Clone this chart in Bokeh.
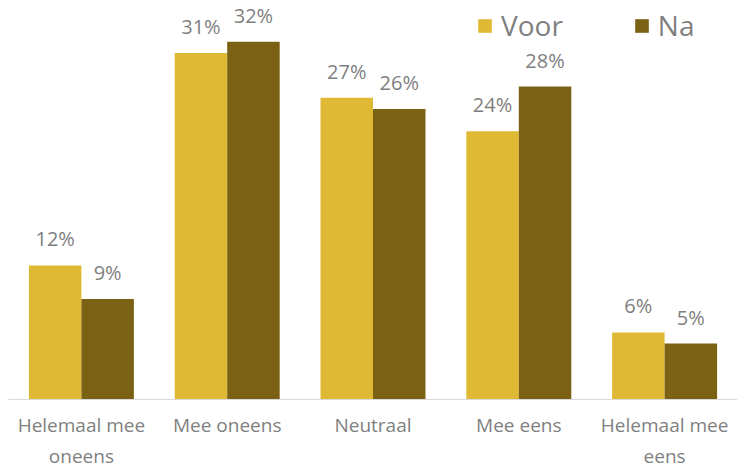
from bokeh.plotting import figure
from bokeh.models import ColumnDataSource, FactorRange, Range1d, Legend, LegendItem
from bokeh.transform import dodge
from bokeh.core.properties import value
from bokeh.embed import file_html
from bokeh.resources import INLINE

categories = ["Helemaal mee\noneens", "Mee oneens", "Neutraal", "Mee eens", "Helemaal mee\neens"]
voor = [12, 31, 27, 24, 6]
na = [9, 32, 26, 28, 5]
series_names = ["Voor", "Na"]
colors = ["#E0B934", "#7B6114"]

src = ColumnDataSource(dict(
    cat=categories,
    voor=voor,
    na=na,
    voor_lbl=[f"{v}%" for v in voor],
    na_lbl=[f"{v}%" for v in na],
))

FONT = "Open Sans"
GRAY = "#7F7F7F"

p = figure(width=737, height=471, output_backend="svg", toolbar_location=None,
           x_range=FactorRange(*categories, range_padding=0),
           y_range=Range1d(0, 35.7), min_border_left=8, min_border_right=0,
           min_border_top=0, min_border_bottom=70)
p.outline_line_color = None
p.xgrid.visible = False
p.ygrid.visible = False
p.yaxis.visible = False

w = 0.36
r1 = p.vbar(x=dodge("cat", -w / 2, range=p.x_range), top="voor", width=w, source=src,
            fill_color=colors[0], line_color=None)
r2 = p.vbar(x=dodge("cat", w / 2, range=p.x_range), top="na", width=w, source=src,
            fill_color=colors[1], line_color=None)

for col, off in (("voor", -w / 2), ("na", w / 2)):
    p.text(x=dodge("cat", off, range=p.x_range), y=col, text=col + "_lbl", source=src,
           text_align="center", text_baseline="bottom", y_offset=-13,
           text_font=value(FONT), text_font_size="20px", text_color=GRAY)

ax = p.xaxis[0]
ax.axis_line_color = "#D9D9D9"
ax.axis_line_width = 1
ax.major_tick_line_color = None
ax.minor_tick_line_color = None
ax.major_label_text_font = FONT
ax.major_label_text_font_size = "19px"
ax.major_label_text_color = GRAY
ax.major_label_standoff = 6

legend = Legend(items=[LegendItem(label=series_names[0], renderers=[r1]),
                       LegendItem(label=series_names[1], renderers=[r2])],
                orientation="horizontal")
legend.border_line_color = None
legend.background_fill_alpha = 0
legend.label_text_font = FONT
legend.label_text_font_size = "28px"
legend.label_text_color = GRAY
legend.glyph_width = 17
legend.glyph_height = 17
legend.label_standoff = 8
legend.spacing = 70
legend.margin = 0
legend.padding = 0
legend.label_height = 40
legend.location = (468, 354)
p.add_layout(legend)

open("out.html", "w").write(file_html(p, INLINE))
